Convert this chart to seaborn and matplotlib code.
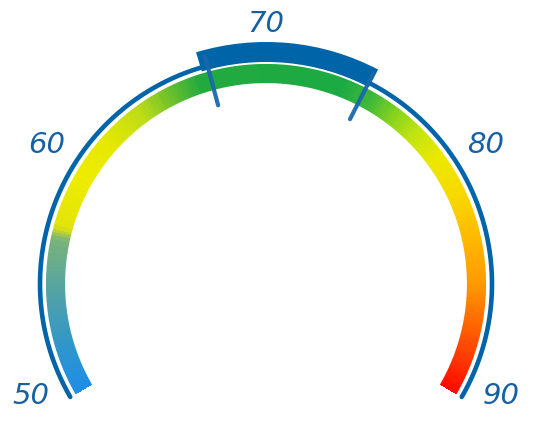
import numpy as np
import pandas as pd
import matplotlib
matplotlib.use("Agg")
import matplotlib.pyplot as plt
from matplotlib.colors import LinearSegmentedColormap
import seaborn as sns

# ---- data ----
gauge_min = 50
gauge_max = 90
tick_labels = [50, 60, 70, 80, 90]
band_start = 67.2          # highlighted target band (outer)
band_end = 74.6
marker_values = [67.5, 74.5]   # needle-like tick marks
stop_values = [50, 52, 54, 56, 57.0, 57.6, 60, 62, 64, 65.5, 67, 73.5, 75,
               76.3, 77.5, 79, 81, 83, 85, 87, 88.5, 90]
stop_colors = ["#1e8ee6", "#2e96cc", "#4a9fb0", "#6aad8c", "#7ab27a", "#e2e40a",
               "#eeec00", "#e6e800", "#bcdc18", "#6cc02c", "#22aa3e", "#1caa44",
               "#40b83a", "#88d41c", "#c0e410", "#ece800", "#f8d800", "#ffb800",
               "#ff9a00", "#ff6400", "#ff3a00", "#ff0c00"]

# ---- style ----
sns.set_theme(style="white")
plt.rcParams['font.family'] = ['DejaVu Sans']

W, H = 534, 426
CX, CY = 266, 284      # gauge centre in pixels
RMAX = 270
START_DEG, SPAN_DEG = 210, 240
BLUE = "#0064a8"

def ang(v):
    return np.radians(START_DEG - (np.asarray(v, float) - gauge_min) / (gauge_max - gauge_min) * SPAN_DEG)

fig = plt.figure(figsize=(W / 100, H / 100), dpi=100)
ax = fig.add_axes([(CX - RMAX) / W, (H - CY - RMAX) / H, 2 * RMAX / W, 2 * RMAX / H],
                  projection="polar")
ax.set_ylim(0, RMAX)
ax.axis("off")

# gradient band (smooth mesh)
span = gauge_max - gauge_min
cmap = LinearSegmentedColormap.from_list(
    "gauge", [((v - gauge_min) / span, c) for v, c in zip(stop_values, stop_colors)])
n = 600
edges = np.linspace(gauge_min, gauge_max, n + 1)
mids = (edges[:-1] + edges[1:]) / 2
T, R = np.meshgrid(ang(edges), np.array([200.5, 220.5]))
C = ((mids - gauge_min) / span)[None, :]
ax.pcolormesh(T, R, C, cmap=cmap, vmin=0, vmax=1, shading="flat",
              antialiased=False, linewidth=0)

# smooth the band's curved edges
vals = np.linspace(gauge_min, gauge_max, 400)
for rr in (200.3, 220.7):
    ax.plot(ang(vals), np.full(vals.shape, rr), color="white", lw=0.9)

# thin outer arc
arc = pd.DataFrame({"theta": ang(vals), "r": np.full(vals.shape, 226.0)})
sns.lineplot(data=arc, x="theta", y="r", sort=False, color=BLUE, lw=3.3, ax=ax)

# highlighted band
t0, t1 = ang(band_start), ang(band_end)
ax.bar((t0 + t1) / 2, 20, width=abs(t0 - t1), bottom=222, color=BLUE, linewidth=0)

# marker ticks
for mv in marker_values:
    t = float(ang(mv))
    ax.plot([t, t], [185, 236], color="#1a68ac", lw=3.0, solid_capstyle="round",
            alpha=0.95)

# labels
for v in tick_labels:
    a = np.radians(90 + (np.degrees(ang(v)) - 90) * 0.962)
    ax.text(a, 260, str(v), ha="center", va="center", fontsize=21,
            style="italic", color="#1760a4", clip_on=False)

fig.savefig("out.png", dpi=100)
